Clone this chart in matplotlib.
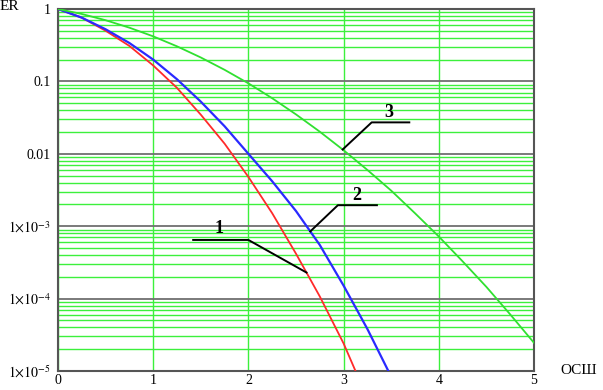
import numpy as np
import matplotlib
matplotlib.use("Agg")
import matplotlib.pyplot as plt
from matplotlib.ticker import FixedLocator, NullFormatter, LogLocator

plt.rcParams['font.family'] = ['Liberation Serif', 'DejaVu Serif']
plt.rcParams['mathtext.fontset'] = 'stix'

# ---- data ----
x_red = [0, 0.25, 0.5, 0.75, 1.0, 1.25, 1.5, 1.75, 2.0, 2.25, 2.5, 2.75, 3.0, 3.125]
y_red = [1.0, 0.759, 0.501, 0.309, 0.166, 0.0813, 0.0347, 0.0138, 4.79e-3,
         1.51e-3, 4.17e-4, 1.07e-4, 2.4e-5, 1.0e-5]

x_blue = [0, 0.25, 0.5, 0.75, 1.0, 1.25, 1.5, 1.75, 2.0, 2.25, 2.5, 2.75, 3.0, 3.25, 3.47]
y_blue = [1.0, 0.759, 0.525, 0.339, 0.200, 0.107, 0.0525, 0.024, 0.010,
          4.17e-3, 1.62e-3, 5.5e-4, 1.51e-4, 3.8e-5, 1.0e-5]

x_green = [0, 0.25, 0.5, 0.75, 1.0, 1.25, 1.5, 1.75, 2.0, 2.25, 2.5, 2.75, 3.0,
           3.25, 3.5, 3.75, 4.0, 4.25, 4.5, 4.75, 5.0]
y_green = [1.0, 0.853, 0.70, 0.552, 0.419, 0.305, 0.214, 0.1445, 0.094, 0.0585,
           0.035, 0.0202, 0.0112, 5.98e-3, 3.1e-3, 1.51e-3, 7.2e-4, 3.27e-4,
           1.45e-4, 6.05e-5, 2.45e-5]

x_ticks = [0, 1, 2, 3, 4, 5]
x_tick_labels = ['0', '1', '2', '3', '4', '5']
y_ticks = [1e-5, 1e-4, 1e-3, 1e-2, 1e-1, 1]
y_tick_labels = [r'$1{\times}10^{-5}$', r'$1{\times}10^{-4}$', r'$1{\times}10^{-3}$',
                 '0.01', '0.1', '1']
curve_labels = ['1', '2', '3']
y_axis_title = 'ER'
x_axis_title = 'ОСШ'

# ---- figure ----
fig = plt.figure(figsize=(6.03, 3.90), dpi=100)
ax = fig.add_axes([58/603, 19/390, 476/603, 362/390])
ax.set_yscale('log')
ax.set_xlim(0, 5)
ax.set_ylim(1e-5, 1)

grid_green = '#3cf03c'
ax.yaxis.set_minor_locator(LogLocator(base=10, subs=np.arange(2, 10)))
ax.yaxis.set_minor_formatter(NullFormatter())
ax.grid(True, which='minor', axis='y', color=grid_green, lw=1.0)
ax.grid(True, which='major', axis='y', color='#707070', lw=1.3)
ax.grid(True, which='major', axis='x', color=grid_green, lw=1.0)
ax.set_axisbelow(True)

ax.set_xticks(x_ticks)
ax.set_xticklabels(x_tick_labels)
ax.yaxis.set_major_locator(FixedLocator(y_ticks))
ax.set_yticklabels(y_tick_labels)
ax.tick_params(axis='both', which='both', length=0, labelsize=10)
ax.tick_params(axis='x', pad=2.5)
ax.tick_params(axis='y', pad=5)

for s in ax.spines.values():
    s.set_color('#555555')
    s.set_linewidth(1.5)

ax.plot(x_red, y_red, color='#ff2a2a', lw=1.3, zorder=3)
ax.plot(x_blue, y_blue, color='#2a2aff', lw=1.6, zorder=3)
ax.plot(x_green, y_green, color='#30e030', lw=1.3, zorder=3)

# ---- leader lines with numbers ----
def ly(p):
    return 10 ** p

# (curve x, curve arrays, elbow x, elbow log-y, other end x, text x, text log-y)
specs = [
    (2.61, x_red, y_red, 2.0, -3.19, 1.42, 1.69, -3.03, curve_labels[0]),
    (2.65, x_blue, y_blue, 2.94, -2.71, 3.35, 3.14, -2.57, curve_labels[1]),
    (2.99, x_green, y_green, 3.295, -1.566, 3.69, 3.47, -1.43, curve_labels[2]),
]
for cx, xs, ys, ex, ey, hx, tx, ty, lab in specs:
    cy = 10 ** np.interp(cx, xs, np.log10(ys))
    ax.plot([cx, ex, hx], [cy, ly(ey), ly(ey)], color='black', lw=1.4, zorder=4)
    ax.text(tx, ly(ty), lab, fontsize=13, fontweight='bold', ha='center',
            va='center', zorder=5)

fig.text(0.0, 1 - 7/390, y_axis_title, fontsize=11, ha='left', va='center')
fig.text(560/603, 1 - 370/390, x_axis_title, fontsize=11, ha='left', va='center')

fig.savefig('out.png', dpi=100)
